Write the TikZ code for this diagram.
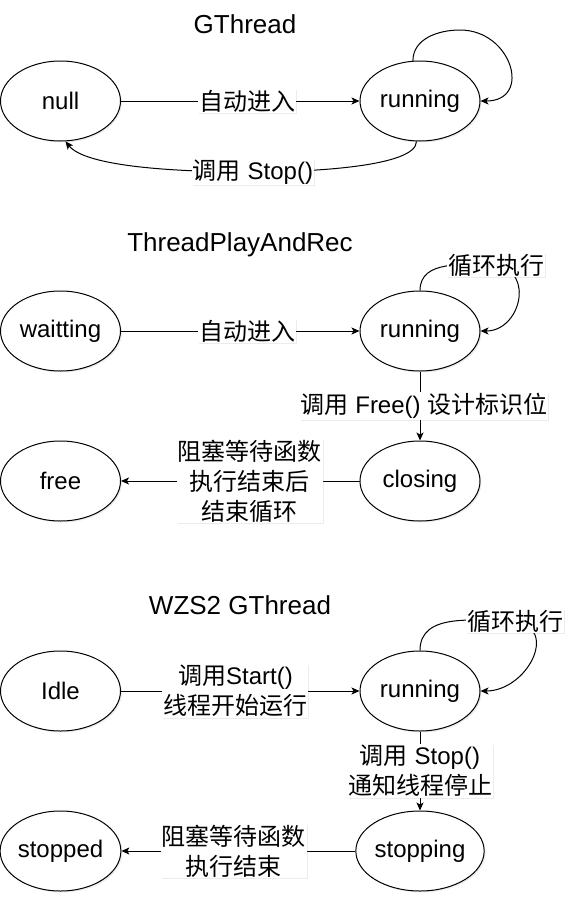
\documentclass[tikz,border=0pt]{standalone}
\usepackage{fontspec}
\setmainfont{Liberation Sans}
\newfontfamily\cjk{Noto Sans CJK SC}
\usetikzlibrary{shapes.geometric,arrows.meta,shadows}

\begin{document}
\begin{tikzpicture}[x=1pt,y=1pt,
	state/.style={draw,ellipse,minimum width=120pt,minimum height=80pt,inner sep=0pt,
		fill=white,line width=1pt,font=\fontsize{24}{29}\selectfont,
		drop shadow={shadow xshift=1.5pt,shadow yshift=-1.5pt,opacity=0.15}},
	lab/.style={fill=white,inner sep=1pt,align=center,font=\fontsize{24}{30}\selectfont,
		drop shadow={shadow xshift=1pt,shadow yshift=-1pt,opacity=0.15}},
	ttl/.style={font=\fontsize{26}{31}\selectfont},
	arr/.style={-{Stealth[length=8pt,width=7pt,inset=2pt]},line width=1pt}]
\useasboundingbox (0,0) rectangle (573,-902);

\def\l{60.5}
\def\r{420}

% GThread
\node[ttl] (tA) at (245,-24) {GThread};
\node[state] (nullA) at (\l,-101) {null};
\node[state] (runA) at (\r,-101) {running};
\coordinate (loopA) at (460,-30);
\coordinate (stopA) at (253,-172);

\draw[arr] (nullA) -- (runA) node[lab,pos=0.53] {{\cjk 自动进入}};
\draw[arr] (runA.100) to[out=90,in=180] (loopA) to[out=0,in=0,looseness=1.8] (runA.east);
\draw[arr] (runA.265) .. controls +(0,-25) and +(60,0) .. (stopA) node[lab] {{\cjk 调用} Stop()}
	.. controls +(-80,0) and +(20,-25) .. (nullA.-83);

% ThreadPlayAndRec
\node[ttl] (tB) at (240,-245) {ThreadPlayAndRec};
\node[state] (waitB) at (\l,-331) {waitting};
\node[state] (runB) at (\r,-331) {running};
\node[state] (closeB) at (\r,-481) {closing};
\node[state] (freeB) at (\l,-481) {free};
\coordinate (loopB) at (496,-265);

\draw[arr] (waitB) -- (runB) node[lab,pos=0.53] {{\cjk 自动进入}};
\draw[arr] (runB.north) to[out=90,in=180] (loopB) node[lab] {{\cjk 循环执行}}
	to[out=-10,in=0,looseness=1.5] (runB.east);
\draw[arr] (runB) -- (closeB) node[lab,midway,xshift=4pt] {{\cjk 调用} Free() {\cjk 设计标识位}};
\draw[arr] (closeB) -- (freeB) node[lab,pos=0.46] {{\cjk 阻塞等待函数}\\{\cjk 执行结束后}\\{\cjk 结束循环}};

% WZS2 GThread
\node[ttl] (tC) at (240,-605) {WZS2 GThread};
\node[state] (idleC) at (\l,-691) {Idle};
\node[state] (runC) at (\r,-691) {running};
\node[state] (stopC) at (\r,-851) {stopping};
\node[state] (stoppedC) at (\l,-851) {stopped};
\coordinate (loopC) at (515,-621);

\draw[arr] (idleC) -- (runC) node[lab,pos=0.48] {{\cjk 调用}Start()\\{\cjk 线程开始运行}};
\draw[arr] (runC.north) to[out=90,in=180] (loopC) node[lab] {{\cjk 循环执行}}
	to[out=-10,in=0,looseness=1.5] (runC.east);
\draw[arr] (runC) -- (stopC) node[lab,midway] {{\cjk 调用} Stop()\\{\cjk 通知线程停止}};
\draw[arr] (stopC) -- (stoppedC) node[lab,pos=0.52] {{\cjk 阻塞等待函数}\\{\cjk 执行结束}};

\end{tikzpicture}
\end{document}
